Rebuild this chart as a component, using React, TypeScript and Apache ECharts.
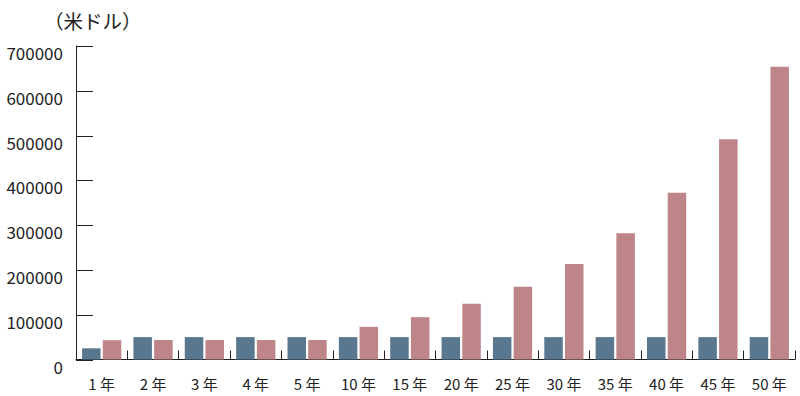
import React, { useEffect, useRef } from "react";
import * as echarts from "echarts";

const categories = ["1 年", "2 年", "3 年", "4 年", "5 年", "10 年", "15 年", "20 年", "25 年", "30 年", "35 年", "40 年", "45 年", "50 年"];
const blueValues = [25000, 50000, 50000, 50000, 50000, 50000, 50000, 50000, 50000, 50000, 50000, 50000, 50000, 50000];
const pinkValues = [43000, 43500, 43500, 43500, 43500, 73000, 94500, 124500, 162500, 213500, 282000, 372500, 492000, 653500];
const yTickValues = [0, 100000, 200000, 300000, 400000, 500000, 600000, 700000];
const unitLabel = "（米ドル）";

const FONT = "'Noto Sans CJK JP', 'Noto Sans', sans-serif";

export default function App() {
  const ref = useRef<HTMLDivElement>(null);
  useEffect(() => {
    if (!ref.current) return;
    const chart = echarts.init(ref.current, null, { renderer: "svg" });
    chart.setOption({
      animation: false,
      textStyle: { fontFamily: FONT },
      grid: { left: 76, right: 5, top: 46, bottom: 36.5, containLabel: false },
      graphic: [
        {
          type: "text",
          left: 44,
          top: 11,
          style: { text: unitLabel, fontSize: 19.5, fontFamily: FONT, fill: "#222" },
        },
      ],
      xAxis: {
        type: "category",
        data: categories,
        axisLine: { lineStyle: { color: "#222", width: 1 } },
        axisTick: { show: true, inside: true, length: 9, lineStyle: { color: "#222", width: 1 } },
        axisLabel: { color: "#222", fontSize: 15, margin: 16, fontFamily: FONT },
      },
      yAxis: {
        type: "value",
        min: 0,
        max: 700000,
        interval: 100000,
        axisLine: { show: true, lineStyle: { color: "#222", width: 1 } },
        axisTick: { show: false },
        splitLine: { show: false },
        axisLabel: {
          color: "#222",
          fontSize: 17,
          margin: 13,
          verticalAlign: "top",
          lineHeight: 13,
          fontFamily: FONT,
          formatter: (v: number) => String(v),
        },
      },
      series: [
        {
          type: "bar",
          data: blueValues,
          barWidth: 18.5,
          barGap: "12%",
          itemStyle: { color: "#5a7790" },
        },
        {
          type: "bar",
          data: pinkValues,
          barWidth: 18.5,
          itemStyle: { color: "#bd8588" },
        },
        {
          type: "custom",
          silent: true,
          z: 5,
          clip: false,
          data: yTickValues.map((v) => [0, v]),
          encode: { x: 0, y: 1 },
          renderItem: (params: any, api: any) => {
            const y = Math.round(api.coord([0, api.value(1)])[1]) + 0.5;
            const x0 = params.coordSys.x;
            return {
              type: "line",
              shape: { x1: x0, y1: y, x2: x0 + 17, y2: y },
              style: { stroke: "#222", lineWidth: 1 },
            };
          },
        },
      ],
    });
    return () => chart.dispose();
  }, []);
  return <div ref={ref} style={{ width: 800, height: 396, position: "absolute", left: 0, top: 0 }} />;
}
